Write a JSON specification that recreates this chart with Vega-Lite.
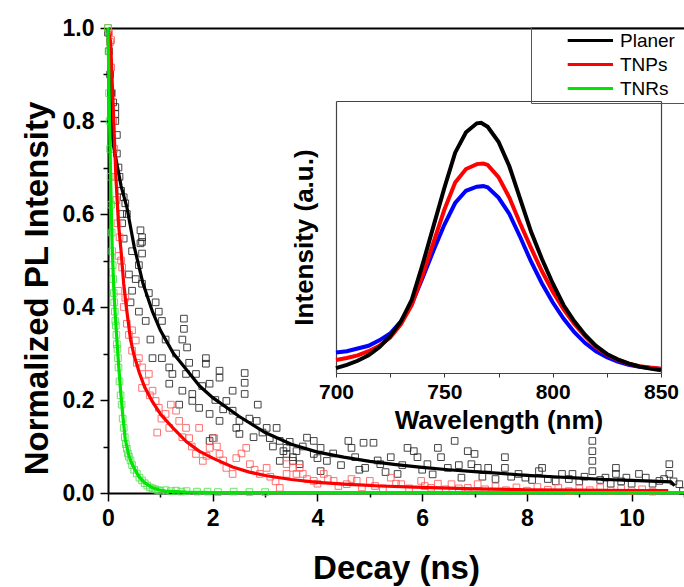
{
"$schema":"https://vega.github.io/schema/vega-lite/v6.json",
"width":576,"height":465,
"autosize":"none",
"padding":{"left":108,"top":28,"right":0,"bottom":94},
"background":"white",
"config":{"view":{"stroke":null},"font":"Liberation Sans","axis":{"labelFont":"Liberation Sans","titleFont":"Liberation Sans","labelColor":"black","titleColor":"black","grid":false}},
"datasets":{
"fits":[
{"s":"Planer","t":0,"v":1.0},{"s":"Planer","t":0.03,"v":0.88},{"s":"Planer","t":0.06,"v":0.8},{"s":"Planer","t":0.1,"v":0.75},{"s":"Planer","t":0.15,"v":0.72},{"s":"Planer","t":0.25,"v":0.66},{"s":"Planer","t":0.36,"v":0.615},{"s":"Planer","t":0.5,"v":0.53},{"s":"Planer","t":0.67,"v":0.45},{"s":"Planer","t":0.85,"v":0.39},{"s":"Planer","t":1.0,"v":0.35},{"s":"Planer","t":1.25,"v":0.3},{"s":"Planer","t":1.5,"v":0.265},{"s":"Planer","t":1.75,"v":0.23},{"s":"Planer","t":2.0,"v":0.205},{"s":"Planer","t":2.5,"v":0.165},{"s":"Planer","t":3.0,"v":0.13},{"s":"Planer","t":3.5,"v":0.105},{"s":"Planer","t":4.0,"v":0.088},{"s":"Planer","t":4.5,"v":0.077},{"s":"Planer","t":5.0,"v":0.068},{"s":"Planer","t":5.5,"v":0.061},{"s":"Planer","t":6.0,"v":0.055},{"s":"Planer","t":6.5,"v":0.05},{"s":"Planer","t":7.0,"v":0.046},{"s":"Planer","t":7.5,"v":0.042},{"s":"Planer","t":8.0,"v":0.038},{"s":"Planer","t":8.5,"v":0.035},{"s":"Planer","t":9.0,"v":0.032},{"s":"Planer","t":9.5,"v":0.029},{"s":"Planer","t":10.0,"v":0.027},{"s":"Planer","t":10.5,"v":0.025},{"s":"Planer","t":10.75,"v":0.024},{"s":"Planer","t":10.82,"v":0.016},
{"s":"TNPs","t":0,"v":1.0},{"s":"TNPs","t":0.05,"v":0.97},{"s":"TNPs","t":0.1,"v":0.83},{"s":"TNPs","t":0.15,"v":0.68},{"s":"TNPs","t":0.2,"v":0.58},{"s":"TNPs","t":0.25,"v":0.52},{"s":"TNPs","t":0.3,"v":0.45},{"s":"TNPs","t":0.35,"v":0.4},{"s":"TNPs","t":0.43,"v":0.33},{"s":"TNPs","t":0.5,"v":0.295},{"s":"TNPs","t":0.6,"v":0.258},{"s":"TNPs","t":0.7,"v":0.228},{"s":"TNPs","t":0.84,"v":0.198},{"s":"TNPs","t":1.0,"v":0.17},{"s":"TNPs","t":1.23,"v":0.141},{"s":"TNPs","t":1.5,"v":0.11},{"s":"TNPs","t":1.74,"v":0.09},{"s":"TNPs","t":2.0,"v":0.075},{"s":"TNPs","t":2.38,"v":0.056},{"s":"TNPs","t":2.7,"v":0.045},{"s":"TNPs","t":3.03,"v":0.037},{"s":"TNPs","t":3.5,"v":0.029},{"s":"TNPs","t":4.0,"v":0.023},{"s":"TNPs","t":4.5,"v":0.019},{"s":"TNPs","t":5.2,"v":0.015},{"s":"TNPs","t":6.0,"v":0.012},{"s":"TNPs","t":7.0,"v":0.009},{"s":"TNPs","t":8.0,"v":0.007},{"s":"TNPs","t":9.0,"v":0.006},{"s":"TNPs","t":10.0,"v":0.005},{"s":"TNPs","t":10.7,"v":0.005},
{"s":"TNRs","t":0,"v":1.0},{"s":"TNRs","t":0.015,"v":0.9},{"s":"TNRs","t":0.03,"v":0.8},{"s":"TNRs","t":0.05,"v":0.68},{"s":"TNRs","t":0.065,"v":0.6},{"s":"TNRs","t":0.08,"v":0.53},{"s":"TNRs","t":0.11,"v":0.44},{"s":"TNRs","t":0.14,"v":0.38},{"s":"TNRs","t":0.17,"v":0.33},{"s":"TNRs","t":0.2,"v":0.28},{"s":"TNRs","t":0.24,"v":0.22},{"s":"TNRs","t":0.28,"v":0.17},{"s":"TNRs","t":0.33,"v":0.115},{"s":"TNRs","t":0.4,"v":0.08},{"s":"TNRs","t":0.45,"v":0.065},{"s":"TNRs","t":0.53,"v":0.047},{"s":"TNRs","t":0.6,"v":0.034},{"s":"TNRs","t":0.7,"v":0.022},{"s":"TNRs","t":0.85,"v":0.011},{"s":"TNRs","t":1.0,"v":0.006},{"s":"TNRs","t":1.1,"v":0.004},{"s":"TNRs","t":1.5,"v":0.002},{"s":"TNRs","t":2.0,"v":0.001},{"s":"TNRs","t":3.0,"v":0.001},{"s":"TNRs","t":5.0,"v":0.001},{"s":"TNRs","t":7.0,"v":0.001},{"s":"TNRs","t":9.0,"v":0.001},{"s":"TNRs","t":11.0,"v":0.001}
],
"pts":[
{"s":"Planer","t":0.0,"v":0.99},{"s":"Planer","t":0.02,"v":0.95},{"s":"Planer","t":0.04,"v":0.9},{"s":"Planer","t":0.06,"v":0.86},{"s":"Planer","t":0.1,"v":0.84},{"s":"Planer","t":0.14,"v":0.83},{"s":"Planer","t":0.14,"v":0.815},{"s":"Planer","t":0.14,"v":0.8},{"s":"Planer","t":0.17,"v":0.77},{"s":"Planer","t":0.17,"v":0.73},{"s":"Planer","t":0.2,"v":0.7},{"s":"Planer","t":0.22,"v":0.68},{"s":"Planer","t":0.25,"v":0.65},{"s":"Planer","t":0.27,"v":0.6},{"s":"Planer","t":0.27,"v":0.58},{"s":"Planer","t":0.3,"v":0.636},{"s":"Planer","t":0.33,"v":0.623},{"s":"Planer","t":0.3,"v":0.547},{"s":"Planer","t":0.36,"v":0.6},{"s":"Planer","t":0.4,"v":0.47},{"s":"Planer","t":0.46,"v":0.52},{"s":"Planer","t":0.46,"v":0.435},{"s":"Planer","t":0.53,"v":0.46},{"s":"Planer","t":0.59,"v":0.49},{"s":"Planer","t":0.62,"v":0.565},{"s":"Planer","t":0.65,"v":0.55},{"s":"Planer","t":0.62,"v":0.537},{"s":"Planer","t":0.65,"v":0.54},{"s":"Planer","t":0.65,"v":0.515},{"s":"Planer","t":0.65,"v":0.45},{"s":"Planer","t":0.59,"v":0.39},{"s":"Planer","t":0.43,"v":0.41},{"s":"Planer","t":0.72,"v":0.37},{"s":"Planer","t":0.78,"v":0.43},{"s":"Planer","t":0.81,"v":0.33},{"s":"Planer","t":0.85,"v":0.29},{"s":"Planer","t":0.91,"v":0.41},{"s":"Planer","t":0.97,"v":0.39},{"s":"Planer","t":1.03,"v":0.37},{"s":"Planer","t":1.03,"v":0.29},{"s":"Planer","t":1.1,"v":0.33},{"s":"Planer","t":1.17,"v":0.27},{"s":"Planer","t":1.17,"v":0.235},{"s":"Planer","t":1.23,"v":0.256},{"s":"Planer","t":1.3,"v":0.3},{"s":"Planer","t":1.36,"v":0.19},{"s":"Planer","t":1.42,"v":0.22},{"s":"Planer","t":1.42,"v":0.33},{"s":"Planer","t":1.45,"v":0.375},{"s":"Planer","t":1.45,"v":0.353},{"s":"Planer","t":1.49,"v":0.256},{"s":"Planer","t":1.51,"v":0.313},{"s":"Planer","t":1.55,"v":0.28},{"s":"Planer","t":1.61,"v":0.213},{"s":"Planer","t":1.61,"v":0.198},{"s":"Planer","t":1.68,"v":0.256},{"s":"Planer","t":1.74,"v":0.183},{"s":"Planer","t":1.8,"v":0.23},{"s":"Planer","t":1.87,"v":0.29},{"s":"Planer","t":1.87,"v":0.278},{"s":"Planer","t":1.94,"v":0.235},{"s":"Planer","t":1.94,"v":0.17},{"s":"Planer","t":1.94,"v":0.112},{"s":"Planer","t":2.0,"v":0.118},{"s":"Planer","t":2.05,"v":0.2},{"s":"Planer","t":2.13,"v":0.263},{"s":"Planer","t":2.13,"v":0.248},{"s":"Planer","t":2.13,"v":0.155},{"s":"Planer","t":2.2,"v":0.18},{"s":"Planer","t":2.26,"v":0.198},{"s":"Planer","t":2.38,"v":0.22},{"s":"Planer","t":2.38,"v":0.177},{"s":"Planer","t":2.45,"v":0.14},{"s":"Planer","t":2.51,"v":0.155},{"s":"Planer","t":2.51,"v":0.127},{"s":"Planer","t":2.61,"v":0.258},{"s":"Planer","t":2.61,"v":0.237},{"s":"Planer","t":2.61,"v":0.213},{"s":"Planer","t":2.7,"v":0.16},{"s":"Planer","t":2.78,"v":0.12},{"s":"Planer","t":2.84,"v":0.155},{"s":"Planer","t":2.86,"v":0.19},{"s":"Planer","t":2.95,"v":0.13},{"s":"Planer","t":3.03,"v":0.14},{"s":"Planer","t":3.09,"v":0.118},{"s":"Planer","t":3.15,"v":0.1},{"s":"Planer","t":3.22,"v":0.14},{"s":"Planer","t":3.28,"v":0.112},{"s":"Planer","t":3.28,"v":0.069},{"s":"Planer","t":3.35,"v":0.09},{"s":"Planer","t":3.41,"v":0.097},{"s":"Planer","t":3.41,"v":0.084},{"s":"Planer","t":3.47,"v":0.11},{"s":"Planer","t":3.53,"v":0.077},{"s":"Planer","t":3.53,"v":0.069},{"s":"Planer","t":3.6,"v":0.09},{"s":"Planer","t":3.66,"v":0.062},{"s":"Planer","t":3.72,"v":0.1},{"s":"Planer","t":3.8,"v":0.119},{"s":"Planer","t":3.93,"v":0.112},{"s":"Planer","t":3.93,"v":0.084},{"s":"Planer","t":4.0,"v":0.075},{"s":"Planer","t":4.06,"v":0.097},{"s":"Planer","t":4.06,"v":0.047},{"s":"Planer","t":4.18,"v":0.069},{"s":"Planer","t":4.3,"v":0.085},{"s":"Planer","t":4.45,"v":0.06},{"s":"Planer","t":4.59,"v":0.112},{"s":"Planer","t":4.65,"v":0.097},{"s":"Planer","t":4.72,"v":0.077},{"s":"Planer","t":4.8,"v":0.05},{"s":"Planer","t":4.88,"v":0.108},{"s":"Planer","t":4.91,"v":0.054},{"s":"Planer","t":5.07,"v":0.108},{"s":"Planer","t":5.15,"v":0.07},{"s":"Planer","t":5.2,"v":0.062},{"s":"Planer","t":5.3,"v":0.045},{"s":"Planer","t":5.4,"v":0.077},{"s":"Planer","t":5.53,"v":0.041},{"s":"Planer","t":5.62,"v":0.06},{"s":"Planer","t":5.72,"v":0.097},{"s":"Planer","t":5.84,"v":0.09},{"s":"Planer","t":5.91,"v":0.077},{"s":"Planer","t":6.0,"v":0.05},{"s":"Planer","t":6.1,"v":0.062},{"s":"Planer","t":6.2,"v":0.04},{"s":"Planer","t":6.3,"v":0.097},{"s":"Planer","t":6.36,"v":0.077},{"s":"Planer","t":6.49,"v":0.054},{"s":"Planer","t":6.62,"v":0.112},{"s":"Planer","t":6.7,"v":0.06},{"s":"Planer","t":6.75,"v":0.033},{"s":"Planer","t":6.87,"v":0.09},{"s":"Planer","t":6.94,"v":0.062},{"s":"Planer","t":7.0,"v":0.084},{"s":"Planer","t":7.06,"v":0.054},{"s":"Planer","t":7.15,"v":0.035},{"s":"Planer","t":7.26,"v":0.054},{"s":"Planer","t":7.4,"v":0.03},{"s":"Planer","t":7.58,"v":0.077},{"s":"Planer","t":7.58,"v":0.054},{"s":"Planer","t":7.7,"v":0.035},{"s":"Planer","t":7.84,"v":0.041},{"s":"Planer","t":7.97,"v":0.033},{"s":"Planer","t":8.1,"v":0.028},{"s":"Planer","t":8.23,"v":0.047},{"s":"Planer","t":8.29,"v":0.054},{"s":"Planer","t":8.4,"v":0.03},{"s":"Planer","t":8.55,"v":0.025},{"s":"Planer","t":8.67,"v":0.041},{"s":"Planer","t":8.8,"v":0.03},{"s":"Planer","t":8.87,"v":0.041},{"s":"Planer","t":9.0,"v":0.025},{"s":"Planer","t":9.1,"v":0.035},{"s":"Planer","t":9.25,"v":0.112},{"s":"Planer","t":9.25,"v":0.09},{"s":"Planer","t":9.25,"v":0.069},{"s":"Planer","t":9.25,"v":0.047},{"s":"Planer","t":9.4,"v":0.028},{"s":"Planer","t":9.5,"v":0.033},{"s":"Planer","t":9.6,"v":0.02},{"s":"Planer","t":9.7,"v":0.054},{"s":"Planer","t":9.7,"v":0.041},{"s":"Planer","t":9.8,"v":0.025},{"s":"Planer","t":9.9,"v":0.033},{"s":"Planer","t":10.0,"v":0.02},{"s":"Planer","t":10.14,"v":0.041},{"s":"Planer","t":10.27,"v":0.033},{"s":"Planer","t":10.4,"v":0.02},{"s":"Planer","t":10.53,"v":0.026},{"s":"Planer","t":10.62,"v":0.03},{"s":"Planer","t":10.72,"v":0.062},{"s":"Planer","t":10.72,"v":0.041},{"s":"Planer","t":10.8,"v":0.025},{"s":"Planer","t":10.91,"v":0.019},{"s":"Planer","t":10.98,"v":0.004},
{"s":"TNPs","t":0.0,"v":1.0},{"s":"TNPs","t":0.02,"v":0.99},{"s":"TNPs","t":0.04,"v":0.97},{"s":"TNPs","t":0.06,"v":0.974},{"s":"TNPs","t":0.06,"v":0.915},{"s":"TNPs","t":0.08,"v":0.86},{"s":"TNPs","t":0.1,"v":0.8},{"s":"TNPs","t":0.12,"v":0.74},{"s":"TNPs","t":0.14,"v":0.68},{"s":"TNPs","t":0.16,"v":0.63},{"s":"TNPs","t":0.18,"v":0.58},{"s":"TNPs","t":0.2,"v":0.51},{"s":"TNPs","t":0.2,"v":0.435},{"s":"TNPs","t":0.22,"v":0.55},{"s":"TNPs","t":0.25,"v":0.5},{"s":"TNPs","t":0.27,"v":0.485},{"s":"TNPs","t":0.3,"v":0.4},{"s":"TNPs","t":0.33,"v":0.42},{"s":"TNPs","t":0.36,"v":0.364},{"s":"TNPs","t":0.4,"v":0.34},{"s":"TNPs","t":0.46,"v":0.35},{"s":"TNPs","t":0.46,"v":0.306},{"s":"TNPs","t":0.53,"v":0.328},{"s":"TNPs","t":0.55,"v":0.28},{"s":"TNPs","t":0.59,"v":0.29},{"s":"TNPs","t":0.65,"v":0.27},{"s":"TNPs","t":0.65,"v":0.226},{"s":"TNPs","t":0.72,"v":0.24},{"s":"TNPs","t":0.78,"v":0.256},{"s":"TNPs","t":0.8,"v":0.21},{"s":"TNPs","t":0.85,"v":0.22},{"s":"TNPs","t":0.91,"v":0.198},{"s":"TNPs","t":0.94,"v":0.13},{"s":"TNPs","t":0.97,"v":0.183},{"s":"TNPs","t":1.02,"v":0.16},{"s":"TNPs","t":1.1,"v":0.17},{"s":"TNPs","t":1.17,"v":0.14},{"s":"TNPs","t":1.2,"v":0.19},{"s":"TNPs","t":1.3,"v":0.177},{"s":"TNPs","t":1.36,"v":0.155},{"s":"TNPs","t":1.42,"v":0.12},{"s":"TNPs","t":1.49,"v":0.14},{"s":"TNPs","t":1.55,"v":0.118},{"s":"TNPs","t":1.6,"v":0.1},{"s":"TNPs","t":1.68,"v":0.084},{"s":"TNPs","t":1.74,"v":0.14},{"s":"TNPs","t":1.81,"v":0.069},{"s":"TNPs","t":1.88,"v":0.08},{"s":"TNPs","t":1.94,"v":0.097},{"s":"TNPs","t":2.03,"v":0.118},{"s":"TNPs","t":2.08,"v":0.1},{"s":"TNPs","t":2.13,"v":0.084},{"s":"TNPs","t":2.2,"v":0.07},{"s":"TNPs","t":2.26,"v":0.054},{"s":"TNPs","t":2.38,"v":0.041},{"s":"TNPs","t":2.45,"v":0.075},{"s":"TNPs","t":2.55,"v":0.085},{"s":"TNPs","t":2.64,"v":0.097},{"s":"TNPs","t":2.71,"v":0.062},{"s":"TNPs","t":2.8,"v":0.05},{"s":"TNPs","t":2.9,"v":0.041},{"s":"TNPs","t":3.03,"v":0.054},{"s":"TNPs","t":3.1,"v":0.035},{"s":"TNPs","t":3.2,"v":0.025},{"s":"TNPs","t":3.28,"v":0.011},{"s":"TNPs","t":3.41,"v":0.041},{"s":"TNPs","t":3.41,"v":0.062},{"s":"TNPs","t":3.53,"v":0.054},{"s":"TNPs","t":3.6,"v":0.041},{"s":"TNPs","t":3.66,"v":0.054},{"s":"TNPs","t":3.72,"v":0.041},{"s":"TNPs","t":3.8,"v":0.03},{"s":"TNPs","t":3.93,"v":0.026},{"s":"TNPs","t":4.0,"v":0.02},{"s":"TNPs","t":4.12,"v":0.041},{"s":"TNPs","t":4.2,"v":0.03},{"s":"TNPs","t":4.31,"v":0.026},{"s":"TNPs","t":4.4,"v":0.015},{"s":"TNPs","t":4.56,"v":0.019},{"s":"TNPs","t":4.65,"v":0.03},{"s":"TNPs","t":4.75,"v":0.026},{"s":"TNPs","t":4.85,"v":0.012},{"s":"TNPs","t":5.0,"v":0.026},{"s":"TNPs","t":5.1,"v":0.015},{"s":"TNPs","t":5.25,"v":0.01},{"s":"TNPs","t":5.4,"v":0.033},{"s":"TNPs","t":5.5,"v":0.02},{"s":"TNPs","t":5.6,"v":0.019},{"s":"TNPs","t":5.75,"v":0.01},{"s":"TNPs","t":5.98,"v":0.026},{"s":"TNPs","t":6.05,"v":0.015},{"s":"TNPs","t":6.17,"v":0.011},{"s":"TNPs","t":6.3,"v":0.02},{"s":"TNPs","t":6.45,"v":0.008},{"s":"TNPs","t":6.56,"v":0.019},{"s":"TNPs","t":6.7,"v":0.01},{"s":"TNPs","t":6.87,"v":0.011},{"s":"TNPs","t":7.06,"v":0.019},{"s":"TNPs","t":7.2,"v":0.008},{"s":"TNPs","t":7.4,"v":0.014},{"s":"TNPs","t":7.6,"v":0.006},{"s":"TNPs","t":7.8,"v":0.012},{"s":"TNPs","t":8.0,"v":0.005},{"s":"TNPs","t":8.2,"v":0.013},{"s":"TNPs","t":8.4,"v":0.007},{"s":"TNPs","t":8.6,"v":0.011},{"s":"TNPs","t":8.8,"v":0.004},{"s":"TNPs","t":9.0,"v":0.01},{"s":"TNPs","t":9.2,"v":0.006},{"s":"TNPs","t":9.4,"v":0.012},{"s":"TNPs","t":9.6,"v":0.005},{"s":"TNPs","t":9.8,"v":0.009},{"s":"TNPs","t":10.0,"v":0.004},{"s":"TNPs","t":10.2,"v":0.008},{"s":"TNPs","t":10.4,"v":0.003},
{"s":"TNRs","t":0.0,"v":1.0},{"s":"TNRs","t":0.01,"v":0.95},{"s":"TNRs","t":0.02,"v":0.86},{"s":"TNRs","t":0.03,"v":0.8},{"s":"TNRs","t":0.04,"v":0.74},{"s":"TNRs","t":0.05,"v":0.68},{"s":"TNRs","t":0.06,"v":0.62},{"s":"TNRs","t":0.07,"v":0.56},{"s":"TNRs","t":0.08,"v":0.52},{"s":"TNRs","t":0.09,"v":0.49},{"s":"TNRs","t":0.1,"v":0.46},{"s":"TNRs","t":0.11,"v":0.43},{"s":"TNRs","t":0.12,"v":0.41},{"s":"TNRs","t":0.13,"v":0.39},{"s":"TNRs","t":0.14,"v":0.37},{"s":"TNRs","t":0.15,"v":0.36},{"s":"TNRs","t":0.16,"v":0.34},{"s":"TNRs","t":0.17,"v":0.32},{"s":"TNRs","t":0.18,"v":0.31},{"s":"TNRs","t":0.19,"v":0.29},{"s":"TNRs","t":0.2,"v":0.27},{"s":"TNRs","t":0.22,"v":0.24},{"s":"TNRs","t":0.24,"v":0.21},{"s":"TNRs","t":0.26,"v":0.19},{"s":"TNRs","t":0.28,"v":0.16},{"s":"TNRs","t":0.3,"v":0.14},{"s":"TNRs","t":0.32,"v":0.12},{"s":"TNRs","t":0.34,"v":0.105},{"s":"TNRs","t":0.36,"v":0.095},{"s":"TNRs","t":0.38,"v":0.085},{"s":"TNRs","t":0.4,"v":0.078},{"s":"TNRs","t":0.43,"v":0.07},{"s":"TNRs","t":0.46,"v":0.06},{"s":"TNRs","t":0.5,"v":0.05},{"s":"TNRs","t":0.55,"v":0.042},{"s":"TNRs","t":0.6,"v":0.033},{"s":"TNRs","t":0.65,"v":0.027},{"s":"TNRs","t":0.7,"v":0.021},{"s":"TNRs","t":0.75,"v":0.016},{"s":"TNRs","t":0.8,"v":0.012},{"s":"TNRs","t":0.85,"v":0.01},{"s":"TNRs","t":0.9,"v":0.008},{"s":"TNRs","t":0.95,"v":0.006},{"s":"TNRs","t":1.0,"v":0.005},{"s":"TNRs","t":1.1,"v":0.006},{"s":"TNRs","t":1.2,"v":0.004},{"s":"TNRs","t":1.3,"v":0.005},{"s":"TNRs","t":1.4,"v":0.003},{"s":"TNRs","t":1.5,"v":0.004},{"s":"TNRs","t":1.7,"v":0.003},{"s":"TNRs","t":1.9,"v":0.003},{"s":"TNRs","t":2.1,"v":0.002},{"s":"TNRs","t":2.4,"v":0.003},{"s":"TNRs","t":2.7,"v":0.002},{"s":"TNRs","t":3.0,"v":0.002}
],
"spec":[
{"c":"TNRs PL","w":700,"v":0.075},{"c":"TNRs PL","w":705,"v":0.08},{"c":"TNRs PL","w":710,"v":0.09},{"c":"TNRs PL","w":715,"v":0.1},{"c":"TNRs PL","w":720,"v":0.12},{"c":"TNRs PL","w":725,"v":0.145},{"c":"TNRs PL","w":730,"v":0.19},{"c":"TNRs PL","w":735,"v":0.255},{"c":"TNRs PL","w":740,"v":0.35},{"c":"TNRs PL","w":745,"v":0.45},{"c":"TNRs PL","w":750,"v":0.545},{"c":"TNRs PL","w":755,"v":0.625},{"c":"TNRs PL","w":760,"v":0.67},{"c":"TNRs PL","w":765,"v":0.685},{"c":"TNRs PL","w":768,"v":0.687},{"c":"TNRs PL","w":770,"v":0.683},{"c":"TNRs PL","w":775,"v":0.645},{"c":"TNRs PL","w":780,"v":0.585},{"c":"TNRs PL","w":785,"v":0.5},{"c":"TNRs PL","w":790,"v":0.41},{"c":"TNRs PL","w":795,"v":0.33},{"c":"TNRs PL","w":800,"v":0.26},{"c":"TNRs PL","w":805,"v":0.2},{"c":"TNRs PL","w":810,"v":0.15},{"c":"TNRs PL","w":815,"v":0.11},{"c":"TNRs PL","w":820,"v":0.08},{"c":"TNRs PL","w":825,"v":0.058},{"c":"TNRs PL","w":830,"v":0.042},{"c":"TNRs PL","w":835,"v":0.03},{"c":"TNRs PL","w":840,"v":0.023},{"c":"TNRs PL","w":845,"v":0.018},{"c":"TNRs PL","w":850,"v":0.015},
{"c":"TNPs PL","w":700,"v":0.048},{"c":"TNPs PL","w":705,"v":0.055},{"c":"TNPs PL","w":710,"v":0.065},{"c":"TNPs PL","w":715,"v":0.08},{"c":"TNPs PL","w":720,"v":0.1},{"c":"TNPs PL","w":725,"v":0.13},{"c":"TNPs PL","w":730,"v":0.18},{"c":"TNPs PL","w":735,"v":0.25},{"c":"TNPs PL","w":740,"v":0.36},{"c":"TNPs PL","w":745,"v":0.48},{"c":"TNPs PL","w":750,"v":0.6},{"c":"TNPs PL","w":755,"v":0.7},{"c":"TNPs PL","w":760,"v":0.75},{"c":"TNPs PL","w":765,"v":0.768},{"c":"TNPs PL","w":768,"v":0.77},{"c":"TNPs PL","w":770,"v":0.765},{"c":"TNPs PL","w":775,"v":0.72},{"c":"TNPs PL","w":780,"v":0.645},{"c":"TNPs PL","w":785,"v":0.55},{"c":"TNPs PL","w":790,"v":0.46},{"c":"TNPs PL","w":795,"v":0.375},{"c":"TNPs PL","w":800,"v":0.3},{"c":"TNPs PL","w":805,"v":0.235},{"c":"TNPs PL","w":810,"v":0.18},{"c":"TNPs PL","w":815,"v":0.135},{"c":"TNPs PL","w":820,"v":0.095},{"c":"TNPs PL","w":825,"v":0.068},{"c":"TNPs PL","w":830,"v":0.048},{"c":"TNPs PL","w":835,"v":0.034},{"c":"TNPs PL","w":840,"v":0.025},{"c":"TNPs PL","w":845,"v":0.02},{"c":"TNPs PL","w":850,"v":0.016},
{"c":"Planer PL","w":700,"v":0.018},{"c":"Planer PL","w":705,"v":0.03},{"c":"Planer PL","w":710,"v":0.045},{"c":"Planer PL","w":715,"v":0.065},{"c":"Planer PL","w":720,"v":0.095},{"c":"Planer PL","w":725,"v":0.135},{"c":"Planer PL","w":730,"v":0.19},{"c":"Planer PL","w":735,"v":0.27},{"c":"Planer PL","w":740,"v":0.4},{"c":"Planer PL","w":745,"v":0.54},{"c":"Planer PL","w":750,"v":0.68},{"c":"Planer PL","w":755,"v":0.81},{"c":"Planer PL","w":760,"v":0.885},{"c":"Planer PL","w":765,"v":0.918},{"c":"Planer PL","w":767,"v":0.92},{"c":"Planer PL","w":770,"v":0.905},{"c":"Planer PL","w":775,"v":0.85},{"c":"Planer PL","w":780,"v":0.76},{"c":"Planer PL","w":785,"v":0.64},{"c":"Planer PL","w":790,"v":0.52},{"c":"Planer PL","w":795,"v":0.42},{"c":"Planer PL","w":800,"v":0.33},{"c":"Planer PL","w":805,"v":0.25},{"c":"Planer PL","w":810,"v":0.19},{"c":"Planer PL","w":815,"v":0.14},{"c":"Planer PL","w":820,"v":0.1},{"c":"Planer PL","w":825,"v":0.07},{"c":"Planer PL","w":830,"v":0.05},{"c":"Planer PL","w":835,"v":0.035},{"c":"Planer PL","w":840,"v":0.024},{"c":"Planer PL","w":845,"v":0.016},{"c":"Planer PL","w":850,"v":0.01}
]
},
"layer":[
{
"layer":[
{"data":{"name":"pts"},
"mark":{"type":"point","shape":"square","filled":false,"size":44,"strokeWidth":1,"opacity":0.85},
"encoding":{
"x":{"field":"t","type":"quantitative","scale":{"domain":[0,11],"nice":false,"zero":false},
"axis":{"orient":"bottom","values":[0,1,2,3,4,5,6,7,8,9,10,11],"labelExpr":"datum.value % 2 === 0 ? datum.label : ''","labelFlush":false,"labelOverlap":false,"tickSize":{"condition":{"test":"datum.value % 2 === 0","value":8},"value":4},"tickColor":"black","tickWidth":1.5,"domainColor":"black","domainWidth":2,"labelFontSize":23,"labelFontWeight":"bold","labelPadding":6,"title":"Decay (ns)","titleFontSize":33,"titleFontWeight":"bold","titlePadding":22}},
"y":{"field":"v","type":"quantitative","scale":{"domain":[0,1],"nice":false,"zero":false},
"axis":{"orient":"left","values":[0,0.1,0.2,0.3,0.4,0.5,0.6,0.7,0.8,0.9,1.0],"labelExpr":"round(datum.value*10) % 2 === 0 ? format(datum.value, '.1f') : ''","labelOverlap":false,"tickSize":{"condition":{"test":"round(datum.value*10) % 2 === 0","value":8},"value":5},"tickColor":"black","tickWidth":1.5,"domainColor":"black","domainWidth":2,"labelFontSize":23,"labelFontWeight":"bold","labelPadding":6,"title":"Normalized PL Intensity","titleFontSize":33,"titleFontWeight":"bold","titlePadding":8,"titleY":260}},
"stroke":{"field":"s","type":"nominal","scale":{"domain":["Planer","TNPs","TNRs"],"range":["#222222","#ff5a5a","#50e050"]},"legend":null}
}},
{"data":{"name":"fits"},
"mark":{"type":"line","strokeWidth":3.2},
"encoding":{
"x":{"field":"t","type":"quantitative","axis":null},
"y":{"field":"v","type":"quantitative","axis":null},
"color":{"field":"s","type":"nominal","scale":{"domain":["Planer","TNPs","TNRs","TNRs PL","TNPs PL","Planer PL"],"range":["#000000","#ff0000","#00e600","#0000ff","#ff0000","#000000"]},
"legend":{"values":["Planer","TNPs","TNRs"],"orient":"none","legendX":423,"legendY":-1,"title":null,"symbolType":"M5.8,0H17.125","symbolSize":64,"symbolStrokeWidth":3,"labelOffset":66,"labelFontSize":19,"labelFont":"Liberation Sans","labelColor":"black","strokeColor":"#555555","padding":4,"rowPadding":4,"labelLimit":300,"labelExpr":"datum.label + '\u2800\u2800\u2800\u2800\u2800\u2800'"}}
}},
{"data":{"name":"fits"},
"mark":{"type":"line","opacity":0},
"encoding":{
"x":{"field":"t","type":"quantitative","axis":{"orient":"top","labels":false,"ticks":false,"title":null,"domainColor":"black","domainWidth":2}},
"y":{"field":"v","type":"quantitative","axis":null}
}}
],
"resolve":{"axis":{"x":"independent","y":"independent"}}
},
{
"data":{"name":"spec"},
"layer":[
{"mark":{"type":"line","strokeWidth":4},
"encoding":{
"x":{"field":"w","type":"quantitative","scale":{"domain":[700,850],"range":[228,553],"nice":false,"zero":false},
"axis":{"orient":"bottom","offset":-120,"values":[700,725,750,775,800,825,850],"labelExpr":"datum.value % 50 === 0 ? datum.label : ''","labelFlush":false,"labelOverlap":false,"tickSize":4,"tickColor":"#333333","tickWidth":1,"domainColor":"#444444","domainWidth":1.2,"labelFontSize":21,"labelFontWeight":"bold","labelPadding":4,"title":"Wavelength (nm)","titleFontSize":26,"titleFontWeight":"bold","titlePadding":5}},
"y":{"field":"v","type":"quantitative","scale":{"domain":[0,1],"range":[345,73],"nice":false,"zero":false},
"axis":{"orient":"left","offset":-228,"labels":false,"ticks":false,"domainColor":"#444444","domainWidth":1.2,"title":"Intensity (a.u.)","titleFontSize":26,"titleFontWeight":"bold","titlePadding":19}},
"color":{"field":"c","type":"nominal","legend":null}
}},
{"mark":{"type":"line","opacity":0},
"encoding":{
"x":{"field":"w","type":"quantitative","scale":{"domain":[700,850],"range":[228,553],"nice":false,"zero":false},
"axis":{"orient":"top","offset":-73,"labels":false,"ticks":false,"title":null,"domainColor":"#444444","domainWidth":1.2}},
"y":{"field":"v","type":"quantitative","scale":{"domain":[0,1],"range":[345,73],"nice":false,"zero":false},
"axis":{"orient":"right","offset":-23,"labels":false,"ticks":false,"title":null,"domainColor":"#444444","domainWidth":1.2}}
}}
],
"resolve":{"axis":{"x":"independent","y":"independent"}}
}
],
"resolve":{"scale":{"x":"independent","y":"independent"}}
}
